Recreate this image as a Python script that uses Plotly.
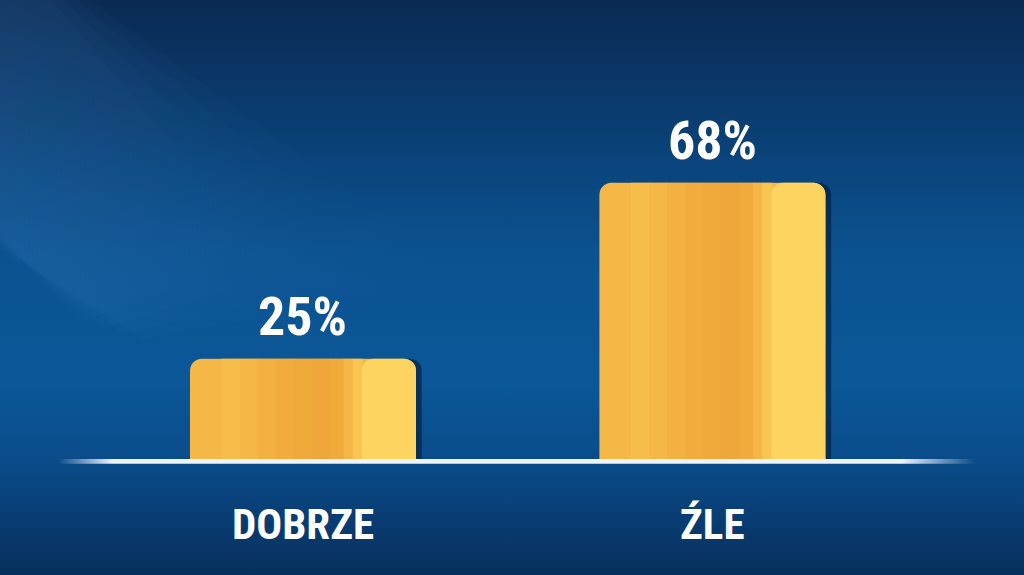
import plotly.graph_objects as go

# chart data
categories = ["DOBRZE", "ŹLE"]
values = [25, 68]

FONT = "Liberation Sans Narrow, Roboto Condensed, DejaVu Sans Condensed, sans-serif"
BAR_W = 0.552
CORNER = 12
X_RANGE = [-0.740, 1.761]
Y_RANGE = [-27.87, 112.7]

# background gradient, listed bottom -> top
bg_scale = [
    [0.00, "#072f5c"],
    [0.10, "#093d73"],
    [0.20, "#0a4c8a"],
    [0.34, "#0b5798"],
    [0.56, "#0b5290"],
    [0.74, "#0a4278"],
    [0.90, "#0a3362"],
    [1.00, "#0a2a52"],
]

# vertical stripes across each bar: (start fraction, end fraction, colour)
bar_stripes = [
    (0.14, 0.22, "#f7bd4a"),
    (0.22, 0.30, "#f5b745"),
    (0.30, 0.38, "#f3b141"),
    (0.38, 0.46, "#f1ac3d"),
    (0.46, 0.54, "#efa83a"),
    (0.54, 0.62, "#efa63a"),
    (0.62, 0.68, "#f1ab3d"),
    (0.68, 0.72, "#f4b646"),
    (0.72, 0.76, "#f8c552"),
]

fig = go.Figure()

# background on the base axes (0..1 both ways)
fig.add_trace(go.Scatter(
    x=[0, 1, 1, 0, 0], y=[0, 0, 1, 1, 0],
    mode="lines", line=dict(width=0), fill="toself",
    fillgradient=dict(type="vertical", colorscale=bg_scale),
    hoverinfo="skip", showlegend=False, xaxis="x", yaxis="y",
))
# soft light streak from the top-left corner, several faint layers
for k in range(4):
    s = 1 + 0.25 * k
    fig.add_trace(go.Scatter(
        x=[0, 0.05 * s, 0.26 * s, 0.08 * s, 0, 0],
        y=[1.0, 1.0, 0.62 - 0.06 * s, 0.48 - 0.04 * s, 0.62 - 0.03 * s, 1.0],
        mode="lines", line=dict(width=0), fill="toself",
        fillgradient=dict(type="horizontal", colorscale=[
            [0, "rgba(100,170,235,0.035)"], [1, "rgba(100,170,235,0.0)"]]),
        hoverinfo="skip", showlegend=False, xaxis="x", yaxis="y",
    ))

# bar shadow
fig.add_trace(go.Bar(
    x=categories, y=values, width=BAR_W, offset=-BAR_W / 2 + 0.014,
    marker=dict(color="rgba(0,15,40,0.5)", cornerradius=CORNER, line=dict(width=0)),
    hoverinfo="skip", showlegend=False, xaxis="x2", yaxis="y2",
))
# main bar body
fig.add_trace(go.Bar(
    x=categories, y=values, width=BAR_W, offset=-BAR_W / 2,
    marker=dict(color="#f5b846", cornerradius=CORNER, line=dict(width=0)),
    hoverinfo="skip", showlegend=False, xaxis="x2", yaxis="y2",
))
for a, b, col in bar_stripes:
    fig.add_trace(go.Bar(
        x=categories, y=values, width=BAR_W * (b - a) + 0.002, offset=-BAR_W / 2 + BAR_W * a,
        marker=dict(color=col, line=dict(width=0)),
        hoverinfo="skip", showlegend=False, xaxis="x2", yaxis="y2",
    ))
# light highlight on the right
fig.add_trace(go.Bar(
    x=categories, y=values, width=BAR_W * 0.24, offset=-BAR_W / 2 + BAR_W * 0.76,
    marker=dict(color="#fcd45f", cornerradius=CORNER, line=dict(width=0)),
    hoverinfo="skip", showlegend=False, xaxis="x2", yaxis="y2",
))

# baseline: thin strip with faded ends, on a linear overlay drawn above the bars
fig.add_trace(go.Scatter(
    x=[-0.598, 1.641, 1.641, -0.598, -0.598], y=[-0.7, -0.7, 0.5, 0.5, -0.7],
    mode="lines", line=dict(width=0), fill="toself",
    fillgradient=dict(type="horizontal", colorscale=[
        [0.0, "rgba(238,243,250,0)"], [0.06, "rgba(238,243,250,1)"],
        [0.92, "rgba(238,243,250,1)"], [1.0, "rgba(238,243,250,0)"]]),
    hoverinfo="skip", showlegend=False, xaxis="x3", yaxis="y3",
))

# value labels and category labels
for cat, val in zip(categories, values):
    fig.add_annotation(
        x=cat, y=val, xref="x2", yref="y2", text=f"{val}%", showarrow=False,
        yanchor="bottom", yshift=9,
        font=dict(family=FONT, size=54, color="white", weight="bold"),
    )
    fig.add_annotation(
        x=cat, y=0, xref="x2", yref="y2", text=cat, showarrow=False,
        yanchor="top", yshift=-36,
        font=dict(family=FONT, size=43, color="white", weight="bold"),
    )

fig.update_layout(
    width=1024, height=575,
    margin=dict(l=0, r=0, t=0, b=0),
    paper_bgcolor="#0a4a88", plot_bgcolor="rgba(0,0,0,0)",
    barmode="overlay", showlegend=False,
    xaxis=dict(range=[0, 1], visible=False, fixedrange=True),
    yaxis=dict(range=[0, 1], visible=False, fixedrange=True),
    xaxis2=dict(overlaying="x", range=X_RANGE, visible=False, fixedrange=True),
    yaxis2=dict(overlaying="y", range=Y_RANGE, visible=False, fixedrange=True),
    xaxis3=dict(overlaying="x", type="linear", range=X_RANGE, visible=False, fixedrange=True),
    yaxis3=dict(overlaying="y", type="linear", range=Y_RANGE, visible=False, fixedrange=True),
)

fig.write_html("out.html", config={"displayModeBar": False},
               post_script="document.body.style.margin='0';document.body.style.overflow='hidden';")
